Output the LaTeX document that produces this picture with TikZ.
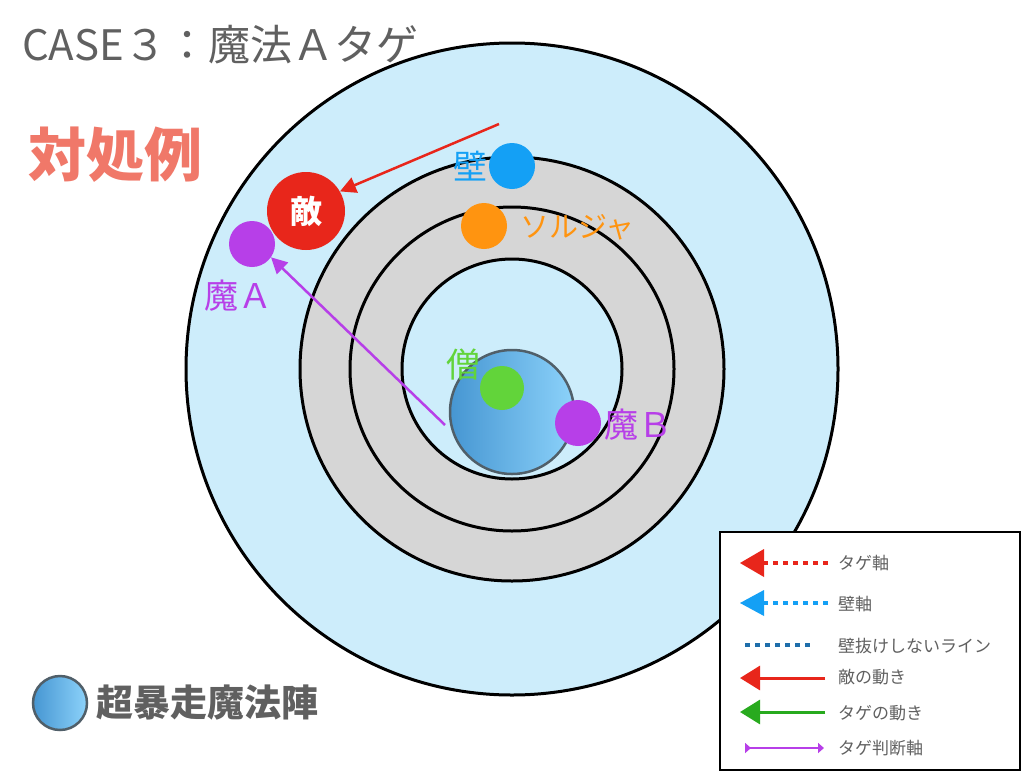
\documentclass[tikz,border=0pt]{standalone}
\usepackage{fontspec}
\setmainfont{Noto Sans CJK JP}
\usetikzlibrary{arrows.meta}
\definecolor{lb}{HTML}{CDEDFB}
\definecolor{gr}{HTML}{D6D6D6}
\definecolor{tg}{HTML}{606060}
\definecolor{pur}{HTML}{B73FE8}
\definecolor{redc}{HTML}{E8261B}
\definecolor{blu}{HTML}{14A0F5}
\definecolor{org}{HTML}{FF9410}
\definecolor{grn}{HTML}{62D43A}
\definecolor{dgrn}{HTML}{28AA1E}
\definecolor{dblu}{HTML}{1E6EAA}
\definecolor{salm}{HTML}{F07869}
\definecolor{shL}{HTML}{4696D2}
\definecolor{shR}{HTML}{8CD2FA}
\definecolor{shB}{HTML}{505F69}
\tikzset{dot/.style={circle,inner sep=0pt},
 lab/.style={inner sep=0pt,font=\fontsize{34}{34}\selectfont},
 ltxt/.style={anchor=west,text=tg,inner sep=0pt,font=\fontsize{17}{17}\selectfont},
 magic/.style={left color=shL,right color=shR,draw=shB,line width=2.5pt}}
\begin{document}
\begin{tikzpicture}[x=1pt,y=-1pt]
\useasboundingbox (0,0) rectangle (1024,779);
\fill[white] (0,0) rectangle (1024,779);
\coordinate (c) at (512,369);
\draw[line width=3pt,fill=lb] (c) circle (326);
\draw[line width=3pt,fill=gr] (c) circle (212);
\draw[line width=3pt,fill=gr] (c) circle (162);
\draw[line width=3pt,fill=lb] (c) circle (110);
\shade[magic] (512,412) circle (62);
\node[anchor=west,text=tg,inner sep=0pt,font=\fontsize{42}{42}\selectfont] (title) at (22,45) {CASE３：魔法Ａタゲ};
\node[text=salm,inner sep=0pt,font=\fontsize{58}{58}\selectfont\bfseries] (tai) at (115,155) {対処例};
\node[dot,fill=grn,minimum size=44pt] (so) at (502,388) {};
\node[lab,text=grn] (sol) at (463,365) {僧};
\node[dot,fill=pur,minimum size=46pt] (mb) at (578,423) {};
\node[lab,text=pur,anchor=west] (mbl) at (604,425) {魔Ｂ};
\node[dot,fill=blu,minimum size=46pt] (ka) at (512,166) {};
\node[lab,text=blu] (kal) at (470,166) {壁};
\node[dot,fill=org,minimum size=46pt] (sj) at (484,226) {};
\node[lab,text=org,anchor=west,font=\fontsize{29}{29}\selectfont] (sjl) at (520,227) {ソルジャ};
\node[dot,fill=redc,minimum size=78pt,text=white,font=\fontsize{32}{32}\selectfont\bfseries] (te) at (306,211) {敵};
\node[dot,fill=pur,minimum size=46pt] (ma) at (252,244) {};
\node[lab,text=pur] (mal) at (238,296) {魔Ａ};
\coordinate (r0) at (499,124);
\coordinate (p0) at (445,425);
\draw[redc,line width=2.5pt,-{Triangle[length=16pt,width=16pt]}] (r0) -- (te.30);
\draw[pur,line width=2.5pt,-{Triangle[length=16pt,width=16pt]}] (p0) -- (ma.-35);
% legend
\draw[line width=2.5pt,fill=white] (720,532) rectangle (1020,770);
\tikzset{lg/.style={line width=4pt,dash pattern=on 5pt off 5pt}}
\draw[redc,lg] (828,563) -- (755,563); \fill[redc] (740,563) -- (764,549) -- (764,577) -- cycle;
\node[ltxt] (l1) at (838,563) {タゲ軸};
\draw[blu,lg] (828,603) -- (755,603); \fill[blu] (740,603) -- (764,590) -- (764,616) -- cycle;
\node[ltxt] (l2) at (838,604) {壁軸};
\draw[dblu,lg] (745,645) -- (812,645);
\node[ltxt] (l3) at (838,646) {壁抜けしないライン};
\draw[redc,line width=3pt,-{Triangle[length=20pt,width=24pt]}] (825,678) -- (740,678);
\node[ltxt] (l4) at (838,677) {敵の動き};
\draw[dgrn,line width=3pt,-{Triangle[length=20pt,width=24pt]}] (825,712) -- (740,712);
\node[ltxt] (l5) at (838,713) {タゲの動き};
\draw[pur,line width=1.5pt,{Triangle[reversed,length=6pt,width=10pt]}-{Triangle[length=6pt,width=10pt]}] (745,748) -- (824,748);
\node[ltxt] (l6) at (838,748) {タゲ判断軸};
% bottom-left
\shade[magic] (60,703) circle (27);
\node[anchor=west,text=tg,inner sep=0pt,font=\fontsize{37}{37}\selectfont\bfseries] (cho) at (96,703) {超暴走魔法陣};
\end{tikzpicture}
\end{document}
